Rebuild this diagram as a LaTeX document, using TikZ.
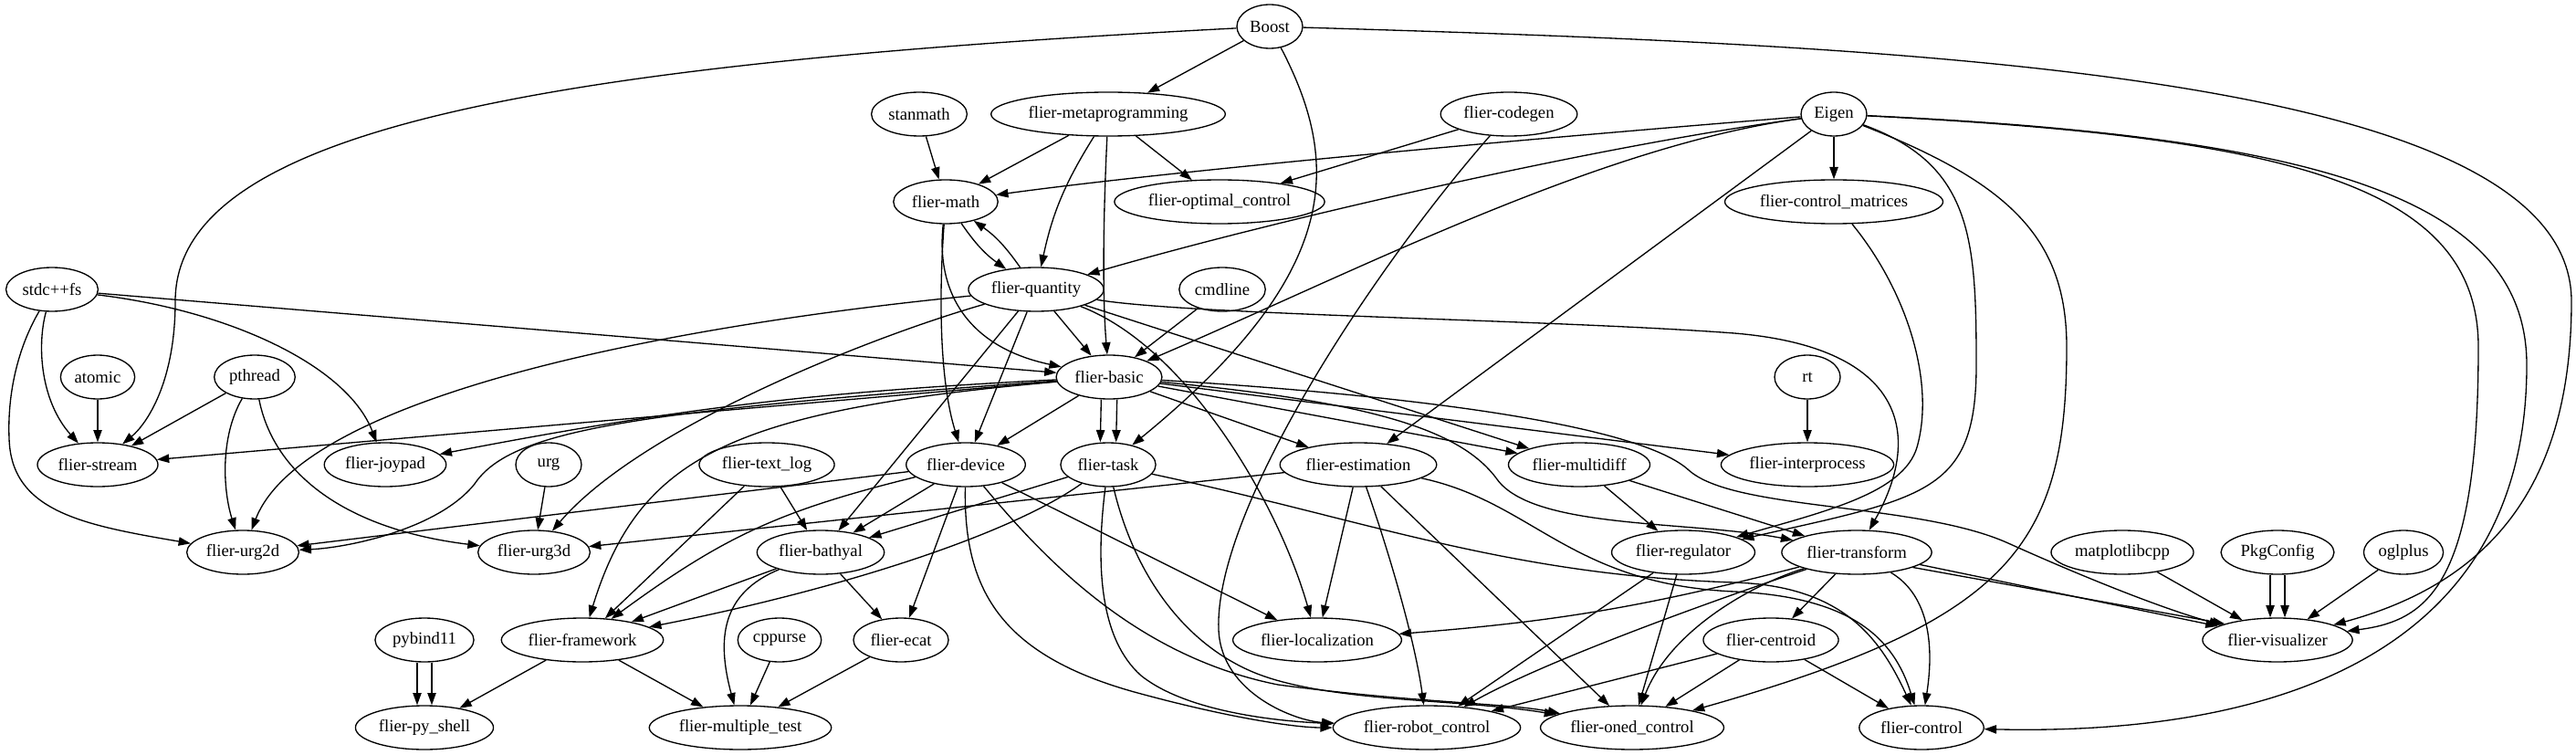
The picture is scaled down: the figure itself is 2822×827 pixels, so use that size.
\documentclass[tikz,border=0pt]{standalone}
\usepackage{fontspec}
\setmainfont{Liberation Serif}
\usetikzlibrary{positioning, arrows.meta, shapes.geometric}
\newcommand{\pkgfont}{\fontsize{14}{17}\selectfont}

\begin{document}
\begin{tikzpicture}[x=0.75pt, y=-0.75pt, >={Triangle[length=10pt, width=7pt]}, font=\pkgfont,
    pkg/.style={ellipse, draw, line width=1pt, inner xsep=2.5pt, inner ysep=1pt,
                minimum height=36pt, minimum width=54pt},
    dep/.style={->, line width=1pt}]
    \useasboundingbox (0,0) rectangle (2822,827);
    % rank 0 and 1
    \node[pkg] (boost) at (1391,29) {Boost};
    \node[pkg] (stanmath) at (1007,125) {stanmath};
    \node[pkg] (metaprog) at (1214,125) {flier-metaprogramming};
    \node[pkg] (codegen) at (1653,125) {flier-codegen};
    \node[pkg] (eigen) at (2009,125) {Eigen};
    % rank 2 and 3
    \node[pkg] (math) at (1036,221) {flier-math};
    \node[pkg] (optctl) at (1336,221) {flier-optimal\_control};
    \node[pkg] (ctlmat) at (2009,221) {flier-control\_matrices};
    \node[pkg] (stdcfs) at (57,317) {stdc++fs};
    \node[pkg] (quantity) at (1135,317) {flier-quantity};
    \node[pkg] (cmdline) at (1339,317) {cmdline};
    % rank 4
    \node[pkg] (atomic) at (107,413) {atomic};
    \node[pkg] (pthread) at (279,413) {pthread};
    \node[pkg] (basic) at (1215,413) {flier-basic};
    \node[pkg] (rt) at (1980,413) {rt};
    % rank 5
    \node[pkg] (stream) at (107,509) {flier-stream};
    \node[pkg] (joypad) at (422,509) {flier-joypad};
    \node[pkg] (urg) at (601,509) {urg};
    \node[pkg] (textlog) at (840,509) {flier-text\_log};
    \node[pkg] (device) at (1058,509) {flier-device};
    \node[pkg] (task) at (1214,509) {flier-task};
    \node[pkg] (estim) at (1488,509) {flier-estimation};
    \node[pkg] (multidiff) at (1730,509) {flier-multidiff};
    \node[pkg] (interproc) at (1980,509) {flier-interprocess};
    % rank 6
    \node[pkg] (urg2d) at (266,605) {flier-urg2d};
    \node[pkg] (urg3d) at (585,605) {flier-urg3d};
    \node[pkg] (bathyal) at (899,605) {flier-bathyal};
    \node[pkg] (regulator) at (1844,605) {flier-regulator};
    \node[pkg] (transform) at (2034,605) {flier-transform};
    \node[pkg] (matplot) at (2325,605) {matplotlibcpp};
    \node[pkg] (pkgconfig) at (2495,605) {PkgConfig};
    \node[pkg] (oglplus) at (2633,605) {oglplus};
    % rank 7
    \node[pkg] (pybind) at (465,701) {pybind11};
    \node[pkg] (framework) at (638,701) {flier-framework};
    \node[pkg] (cppurse) at (854,701) {cppurse};
    \node[pkg] (ecat) at (987,701) {flier-ecat};
    \node[pkg] (localiz) at (1443,701) {flier-localization};
    \node[pkg] (centroid) at (1940,701) {flier-centroid};
    \node[pkg] (visual) at (2495,701) {flier-visualizer};
    % rank 8
    \node[pkg] (pyshell) at (465,797) {flier-py\_shell};
    \node[pkg] (multitest) at (811,797) {flier-multiple\_test};
    \node[pkg] (robot) at (1563,797) {flier-robot\_control};
    \node[pkg] (oned) at (1788,797) {flier-oned\_control};
    \node[pkg] (control) at (2105,797) {flier-control};

    % Boost
    \draw[dep] (boost) -- (metaprog);
    \draw[dep] (boost) .. controls (600,70) and (192,140) .. (192,330) .. controls (192,420) and (160,465) .. (stream);
    \draw[dep] (boost) .. controls (1470,180) and (1470,300) .. (task);
    \draw[dep] (boost) .. controls (2100,50) and (2817,80) .. (2817,330) .. controls (2817,540) and (2720,640) .. (visual);
    % Eigen
    \draw[dep] (eigen) .. controls (1700,150) and (1300,185) .. (math);
    \draw[dep] (eigen) .. controls (1750,160) and (1400,240) .. (quantity);
    \draw[dep] (eigen) .. controls (1750,160) and (1480,300) .. (basic);
    \draw[dep] (eigen) -- (estim);
    \draw[dep] (eigen) -- (ctlmat);
    \draw[dep] (eigen) .. controls (2160,180) and (2165,260) .. (2165,400) .. controls (2165,540) and (2110,545) .. (regulator);
    \draw[dep] (eigen) .. controls (2200,200) and (2264,260) .. (2264,380) .. controls (2264,600) and (2200,680) .. (oned);
    \draw[dep] (eigen) .. controls (2500,150) and (2715,200) .. (2715,380) .. controls (2715,640) and (2660,680) .. (visual);
    \draw[dep] (eigen) .. controls (2550,150) and (2768,220) .. (2768,400) .. controls (2768,740) and (2450,805) .. (control);
    \draw[dep] (ctlmat) .. controls (2090,320) and (2120,420) .. (2100,490) .. controls (2085,540) and (2000,560) .. (regulator);
    % top rows
    \draw[dep] (metaprog) -- (math);
    \draw[dep] (metaprog) to[bend right=10] (quantity);
    \draw[dep] (metaprog) .. controls (1208,250) and (1208,330) .. (basic);
    \draw[dep] (metaprog) -- (optctl);
    \draw[dep] (stanmath) -- (math);
    \draw[dep] (codegen) -- (optctl);
    \draw[dep] (codegen) .. controls (1500,300) and (1330,560) .. (1335,690) .. controls (1338,760) and (1420,790) .. (robot);
    \draw[dep] (math) to[bend right=10] (quantity);
    \draw[dep] (quantity) to[bend right=10] (math);
    \draw[dep] (math) .. controls (1025,320) and (1060,380) .. (basic);
    \draw[dep] (math) .. controls (1028,330) and (1030,420) .. (device);
    % flier-quantity
    \draw[dep] (quantity) -- (basic);
    \draw[dep] (quantity) -- (device);
    \draw[dep] (quantity) -- (bathyal);
    \draw[dep] (quantity) .. controls (700,360) and (330,440) .. (urg2d);
    \draw[dep] (quantity) .. controls (950,370) and (700,470) .. (urg3d);
    \draw[dep] (quantity) .. controls (1300,380) and (1400,550) .. (localiz);
    \draw[dep] (quantity) -- (multidiff);
    \draw[dep] (quantity) .. controls (1300,345) and (1700,350) .. (1900,365) .. controls (2080,380) and (2110,470) .. (transform);
    % system libraries on the left
    \draw[dep] (stdcfs) .. controls (40,380) and (45,440) .. (stream);
    \draw[dep] (stdcfs) .. controls (20,380) and (8,430) .. (10,480) .. controls (12,560) and (90,575) .. (urg2d);
    \draw[dep] (stdcfs) -- (basic);
    \draw[dep] (stdcfs) .. controls (250,340) and (380,400) .. (joypad);
    \draw[dep] (atomic) -- (stream);
    \draw[dep] (pthread) -- (stream);
    \draw[dep] (pthread) .. controls (240,480) and (245,540) .. (urg2d);
    \draw[dep] (pthread) .. controls (300,520) and (380,580) .. (urg3d);
    \draw[dep] (cmdline) -- (basic);
    \draw[dep] (rt) -- (interproc);
    \draw[dep] (urg) -- (urg3d);
    % flier-basic
    \draw[dep] (basic) -- (stream);
    \draw[dep] (basic) to[bend right=4] (joypad);
    \draw[dep] (basic) .. controls (700,450) and (560,470) .. (520,530) .. controls (480,580) and (380,600) .. (urg2d);
    \draw[dep] (basic) .. controls (800,450) and (700,500) .. (framework);
    \draw[dep] (basic) -- (device);
    \draw[dep] ([xshift=-6.5pt]basic.south) -- ([xshift=-6.5pt]task.north);
    \draw[dep] ([xshift=6.5pt]basic.south) -- ([xshift=6.5pt]task.north);
    \draw[dep] (basic) -- (estim);
    \draw[dep] (basic) -- (multidiff);
    \draw[dep] (basic) -- (interproc);
    \draw[dep] (basic) .. controls (1500,430) and (1790,460) .. (1850,515) .. controls (1900,560) and (2100,550) .. (2200,595) .. controls (2300,640) and (2380,670) .. (visual);
    \draw[dep] (basic) .. controls (1500,440) and (1600,470) .. (1640,525) .. controls (1680,580) and (1850,570) .. (transform);
    \draw[dep] (multidiff) -- (regulator);
    \draw[dep] (multidiff) -- (transform);
    % flier-task
    \draw[dep] (task) -- (bathyal);
    \draw[dep] (task) .. controls (1100,590) and (900,650) .. (framework);
    \draw[dep] (task) .. controls (1200,620) and (1205,700) .. (1250,740) .. controls (1300,780) and (1400,790) .. (robot);
    \draw[dep] (task) .. controls (1240,620) and (1290,700) .. (1370,735) .. controls (1450,770) and (1600,765) .. (oned);
    \draw[dep] (task) .. controls (1500,570) and (1650,630) .. (1900,638) .. controls (2020,642) and (2060,700) .. (control);
    % flier-estimation
    \draw[dep] (estim) -- (urg3d);
    \draw[dep] (estim) -- (localiz);
    \draw[dep] (estim) .. controls (1520,600) and (1550,700) .. (robot);
    \draw[dep] (estim) -- (oned);
    \draw[dep] (estim) .. controls (1680,550) and (1720,640) .. (1900,648) .. controls (2030,654) and (2075,700) .. (control);
    % flier-device
    \draw[dep] (device) -- (urg2d);
    \draw[dep] (device) .. controls (850,560) and (790,590) .. (framework);
    \draw[dep] (device) -- (bathyal);
    \draw[dep] (device) -- (ecat);
    \draw[dep] (device) .. controls (1055,650) and (1100,720) .. (1250,760) .. controls (1350,787) and (1420,797) .. (robot);
    \draw[dep] (device) .. controls (1150,620) and (1250,720) .. (1400,750) .. controls (1550,770) and (1650,770) .. (oned);
    \draw[dep] (device) -- (localiz);
    \draw[dep] (textlog) -- (bathyal);
    \draw[dep] (textlog) -- (framework);
    % lower left
    \draw[dep] (bathyal) -- (framework);
    \draw[dep] (bathyal) .. controls (790,650) and (785,700) .. (multitest);
    \draw[dep] (bathyal) -- (ecat);
    \draw[dep] (ecat) -- (multitest);
    \draw[dep] (cppurse) -- (multitest);
    \draw[dep] (framework) -- (pyshell);
    \draw[dep] (framework) -- (multitest);
    \draw[dep] ([xshift=-6pt]pybind.south) -- ([xshift=-6pt]pyshell.north);
    \draw[dep] ([xshift=6pt]pybind.south) -- ([xshift=6pt]pyshell.north);
    % lower right
    \draw[dep] (regulator) -- (robot);
    \draw[dep] (regulator) -- (oned);
    \draw[dep] (transform) to[bend left=5] (localiz);
    \draw[dep] (transform) .. controls (1900,650) and (1700,720) .. (robot);
    \draw[dep] (transform) .. controls (1920,640) and (1830,690) .. (oned);
    \draw[dep] (transform) -- (centroid);
    \draw[dep] (transform) .. controls (2110,650) and (2120,700) .. (control);
    \draw[dep] (transform.-11) -- (visual.167);
    \draw[dep] (transform.-15) -- (visual.163);
    \draw[dep] (centroid) -- (robot);
    \draw[dep] (centroid) -- (oned);
    \draw[dep] (centroid) -- (control);
    \draw[dep] (matplot) -- (visual);
    \draw[dep] ([xshift=-6pt]pkgconfig.south) -- ([xshift=-6pt]visual.north);
    \draw[dep] ([xshift=6pt]pkgconfig.south) -- ([xshift=6pt]visual.north);
    \draw[dep] (oglplus) -- (visual);
\end{tikzpicture}
\end{document}
